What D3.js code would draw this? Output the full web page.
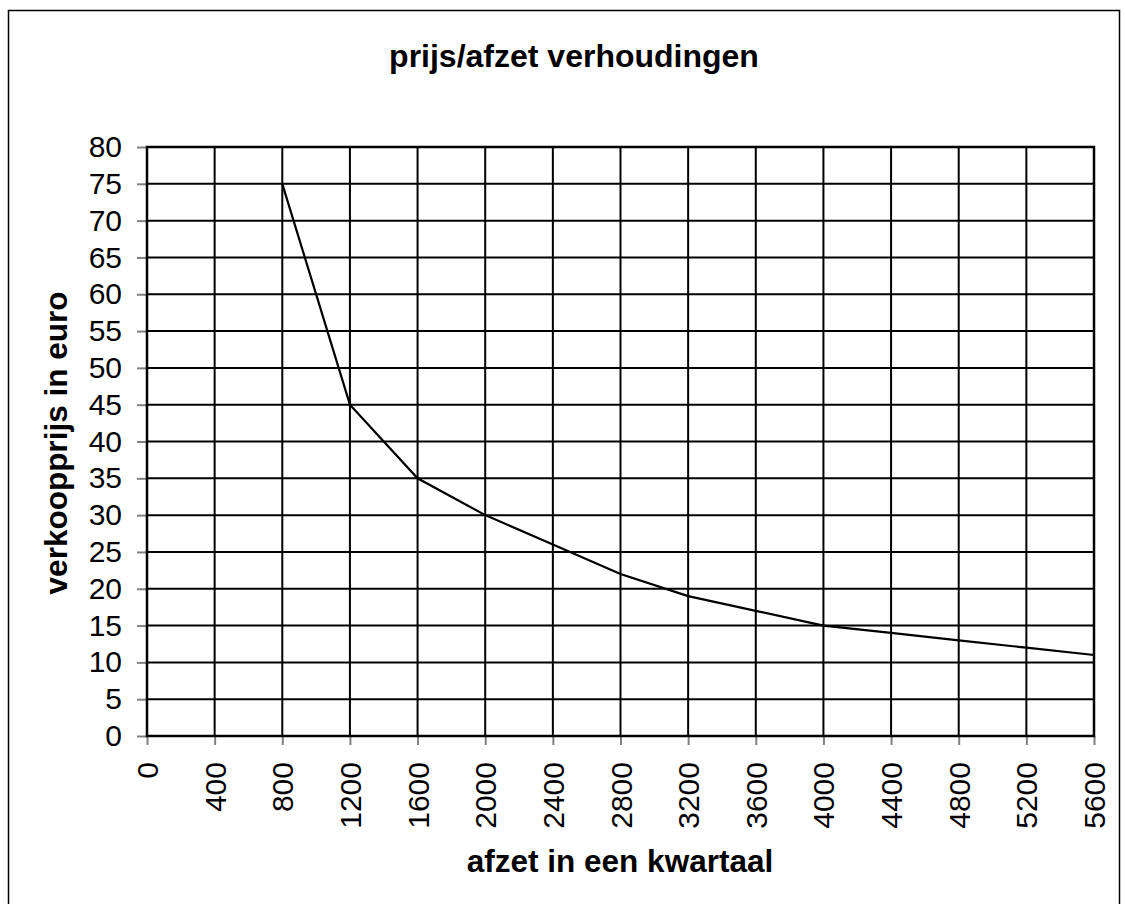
<!DOCTYPE html>
<html>
<head>
<meta charset="utf-8">
<script src="https://cdn.jsdelivr.net/npm/d3@7"></script>
<style>
  html, body { margin: 0; padding: 0; background: #fff; }
  svg { display: block; }
</style>
</head>
<body>
<svg id="chart" width="1125" height="904"></svg>
<script>
const title = "prijs/afzet verhoudingen";
const xTitle = "afzet in een kwartaal";
const yTitle = "verkoopprijs in euro";
const xTicks = [0, 400, 800, 1200, 1600, 2000, 2400, 2800, 3200, 3600, 4000, 4400, 4800, 5200, 5600];
const yTicks = [0, 5, 10, 15, 20, 25, 30, 35, 40, 45, 50, 55, 60, 65, 70, 75, 80];
const afzet = [800, 1200, 1600, 2000, 2400, 2800, 3200, 3600, 4000, 4400, 4800, 5200, 5600];
const prijs = [75, 45, 35, 30, 26, 22, 19, 17, 15, 14, 13, 12, 11];

const svg = d3.select("#chart");
const font = "'Liberation Sans', Arial, sans-serif";

const pLeft = 147, pRight = 1094, pTop = 147, pBottom = 736;
const x = d3.scaleLinear().domain([0, 5600]).range([pLeft, pRight]);
const y = d3.scaleLinear().domain([0, 80]).range([pBottom, pTop]);

// outer frame
svg.append("rect").attr("x", 8.5).attr("y", 10.5).attr("width", 1111).attr("height", 910)
  .attr("fill", "none").attr("stroke", "#000").attr("stroke-width", 1.5);

// title
svg.append("text").attr("x", 574).attr("y", 67).attr("text-anchor", "middle")
  .attr("font-family", font).attr("font-weight", "bold").attr("font-size", 32)
  .text(title);

// axes (ticks + labels)
const yAxis = d3.axisLeft(y).tickValues(yTicks).tickSize(10).tickPadding(15);
const gy = svg.append("g").attr("transform", `translate(${pLeft},0)`).call(yAxis);
gy.select(".domain").remove();
gy.selectAll(".tick line").attr("stroke", "#808080").attr("stroke-width", 2);
gy.selectAll(".tick text").attr("font-family", font).attr("font-size", 30).attr("fill", "#000");

const xAxis = d3.axisBottom(x).tickValues(xTicks).tickSize(9).tickFormat(d3.format("d"));
const gx = svg.append("g").attr("transform", `translate(0,${pBottom})`).call(xAxis);
gx.select(".domain").remove();
gx.selectAll(".tick line").attr("stroke", "#808080").attr("stroke-width", 2);
gx.selectAll(".tick text")
  .attr("font-family", font).attr("font-size", 30).attr("fill", "#000")
  .attr("transform", "rotate(-90)")
  .attr("text-anchor", "end")
  .attr("x", -26).attr("y", 0).attr("dy", "0.35em");

// grid
const grid = svg.append("g").attr("stroke", "#000").attr("stroke-width", 2);
grid.selectAll("line.h").data(yTicks).join("line").attr("class", "h")
  .attr("x1", pLeft).attr("x2", pRight).attr("y1", d => y(d)).attr("y2", d => y(d));
grid.selectAll("line.v").data(xTicks).join("line").attr("class", "v")
  .attr("y1", pTop).attr("y2", pBottom).attr("x1", d => x(d)).attr("x2", d => x(d));

// plot frame
svg.append("rect").attr("x", pLeft).attr("y", pTop).attr("width", pRight - pLeft).attr("height", pBottom - pTop)
  .attr("fill", "none").attr("stroke", "#000").attr("stroke-width", 2.5);

// line
const data = afzet.map((a, i) => ({ a, p: prijs[i] }));
svg.append("path").datum(data)
  .attr("fill", "none").attr("stroke", "#000").attr("stroke-width", 2.2)
  .attr("d", d3.line().x(d => x(d.a)).y(d => y(d.p)));

// axis titles
svg.append("text").attr("x", 620).attr("y", 872).attr("text-anchor", "middle")
  .attr("font-family", font).attr("font-weight", "bold").attr("font-size", 31.5)
  .text(xTitle);
svg.append("text").attr("transform", "translate(67,443) rotate(-90)").attr("text-anchor", "middle")
  .attr("font-family", font).attr("font-weight", "bold").attr("font-size", 31.5)
  .text(yTitle);
</script>
</body>
</html>
